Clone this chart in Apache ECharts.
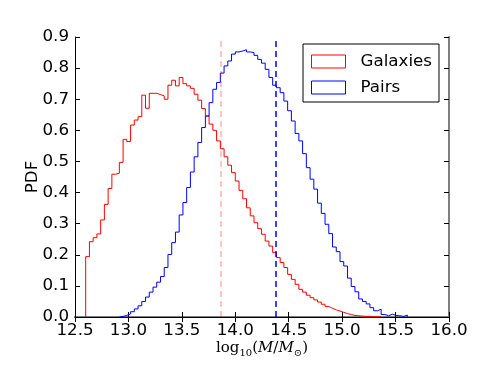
<!DOCTYPE html>
<html>
<head>
<meta charset="utf-8">
<script src="https://cdn.jsdelivr.net/npm/echarts@6/dist/echarts.min.js"></script>
<style>
  html, body { margin: 0; padding: 0; background: #fff; }
  #chart { width: 499px; height: 374px; }
</style>
</head>
<body>
<div id="chart"></div>
<script>
  // histogram bins (log10 mass)
  const binStart = 12.6
  const binWidth = 0.035

  // galaxies PDF, one value per bin starting at binStart
  const galaxies = [
    0.194, 0.242, 0.255, 0.267, 0.312, 0.362, 0.413, 0.459, 0.462, 0.497,
    0.571, 0.564, 0.617, 0.633, 0.644, 0.713, 0.671, 0.719, 0.719, 0.715,
    0.711, 0.700, 0.745, 0.761, 0.743, 0.770, 0.750, 0.743, 0.735, 0.716,
    0.697, 0.670, 0.646, 0.620, 0.600, 0.566, 0.541, 0.515, 0.488, 0.464,
    0.437, 0.407, 0.380, 0.351, 0.325, 0.303, 0.284, 0.266, 0.244, 0.228,
    0.207, 0.191, 0.175, 0.159, 0.137, 0.121, 0.105, 0.089, 0.080, 0.070,
    0.062, 0.055, 0.048, 0.041, 0.034, 0.028, 0.023, 0.019, 0.015, 0.011,
    0.008, 0.005, 0.004, 0.003, 0.002, 0.002, 0.001, 0.001, 0.0005
  ]

  // pairs PDF, first non-empty bin is bin 9
  const pairsFirstBin = 9
  const pairs = [
    0.002, 0.005, 0.010, 0.017, 0.026, 0.036, 0.050, 0.064, 0.080, 0.096,
    0.112, 0.130, 0.159, 0.201, 0.239, 0.273, 0.328, 0.368, 0.416, 0.466,
    0.515, 0.561, 0.609, 0.646, 0.689, 0.732, 0.754, 0.784, 0.807, 0.823,
    0.845, 0.852, 0.855, 0.859, 0.852, 0.850, 0.841, 0.828, 0.816, 0.796,
    0.770, 0.745, 0.737, 0.721, 0.694, 0.663, 0.630, 0.590, 0.566, 0.525,
    0.480, 0.443, 0.411, 0.366, 0.333, 0.298, 0.268, 0.225, 0.210, 0.178,
    0.164, 0.125, 0.098, 0.081, 0.058, 0.050, 0.042, 0.030, 0.020, 0.025,
    0.008, 0.004, 0.009, 0.005, 0.004, 0.002, 0.006
  ]

  // medians (dashed lines)
  const galaxiesMedian = 13.855
  const pairsMedian = 14.38

  // step outline like histtype='step'
  function stepData (values, firstBin) {
    const pts = [[binStart + firstBin * binWidth, 0]]
    values.forEach((v, i) => pts.push([binStart + (firstBin + i) * binWidth, v]))
    pts.push([binStart + (firstBin + values.length) * binWidth, 0])
    return pts
  }

  const font = 'DejaVu Sans'
  const fs = 16.7
  const frame = {show: true, lineStyle: {color: '#000', width: 1}}
  const tickIn = {show: true, inside: true, length: 5, lineStyle: {color: '#000', width: 1}}

  const chart = echarts.init(document.getElementById('chart'))
  chart.setOption({
    animation: false,
    backgroundColor: '#fff',
    grid: {left: 75, right: 50, top: 37, bottom: 57},
    legend: {
      left: 303,
      top: 44,
      orient: 'vertical',
      icon: 'rect',
      itemWidth: 34,
      itemHeight: 13,
      itemGap: 9,
      padding: [9, 7, 6, 8],
      borderColor: '#000',
      borderWidth: 1,
      textStyle: {fontFamily: font, fontSize: fs, color: '#000', lineHeight: 13, padding: [0, 0, 0, 10]},
      data: [
        {name: 'Galaxies', itemStyle: {color: 'transparent', borderColor: '#ff0000', borderWidth: 1, opacity: 1}},
        {name: 'Pairs', itemStyle: {color: 'transparent', borderColor: '#0000ff', borderWidth: 1, opacity: 1}}
      ]
    },
    xAxis: [
      {
        type: 'value',
        min: 12.5,
        max: 16.0,
        interval: 0.5,
        name: 'log{sub|10}({it|M}/{it|M}{sub|⊙})',
        nameLocation: 'middle',
        nameGap: 22,
        nameMoveOverlap: false,
        nameTextStyle: {
          fontFamily: 'DejaVu Serif', fontSize: 15, color: '#000',
          rich: {
            it: {fontFamily: 'DejaVu Serif', fontStyle: 'italic', fontSize: 15},
            sub: {fontFamily: 'DejaVu Serif', fontSize: 10, padding: [9, 0, 0, 0]}
          }
        },
        axisLine: {show: true, lineStyle: {color: '#7f7f7f', width: 2}},
        axisTick: tickIn,
        splitLine: {show: false},
        axisLabel: {fontFamily: font, fontSize: fs, color: '#000', margin: 5, formatter: v => v.toFixed(1)}
      },
      {
        type: 'value',
        position: 'top',
        min: 12.5,
        max: 16.0,
        interval: 0.5,
        axisLine: frame,
        axisTick: tickIn,
        splitLine: {show: false},
        axisLabel: {show: false}
      }
    ],
    yAxis: [
      {
        type: 'value',
        min: 0,
        max: 0.9,
        interval: 0.1,
        name: 'PDF',
        nameLocation: 'middle',
        nameGap: 34,
        nameMoveOverlap: false,
        nameTextStyle: {fontFamily: font, fontSize: fs, color: '#000'},
        axisLine: frame,
        axisTick: tickIn,
        splitLine: {show: false},
        axisLabel: {fontFamily: font, fontSize: fs, color: '#000', margin: 6, formatter: v => v.toFixed(1)}
      },
      {
        type: 'value',
        position: 'right',
        min: 0,
        max: 0.9,
        interval: 0.1,
        axisLine: {show: true, lineStyle: {color: '#7f7f7f', width: 2}},
        axisTick: tickIn,
        splitLine: {show: false},
        axisLabel: {show: false}
      }
    ],
    series: [
      {
        name: 'Galaxies',
        type: 'line',
        step: 'end',
        symbol: 'none',
        color: '#ff0000',
        lineStyle: {color: '#ff0000', width: 1},
        data: stepData(galaxies, 0),
        markLine: {
          silent: true,
          symbol: 'none',
          label: {show: false},
          lineStyle: {color: '#ff0000', opacity: 0.3, type: [6, 4], width: 1.5},
          data: [{xAxis: galaxiesMedian}]
        }
      },
      {
        name: 'Pairs',
        type: 'line',
        step: 'end',
        symbol: 'none',
        color: '#0000ff',
        lineStyle: {color: '#0000ff', width: 1},
        data: stepData(pairs, pairsFirstBin),
        markLine: {
          silent: true,
          symbol: 'none',
          label: {show: false},
          lineStyle: {color: '#0000ff', opacity: 1, type: [6, 4], width: 1.5},
          data: [{xAxis: pairsMedian}]
        }
      }
    ]
  })
</script>
</body>
</html>
